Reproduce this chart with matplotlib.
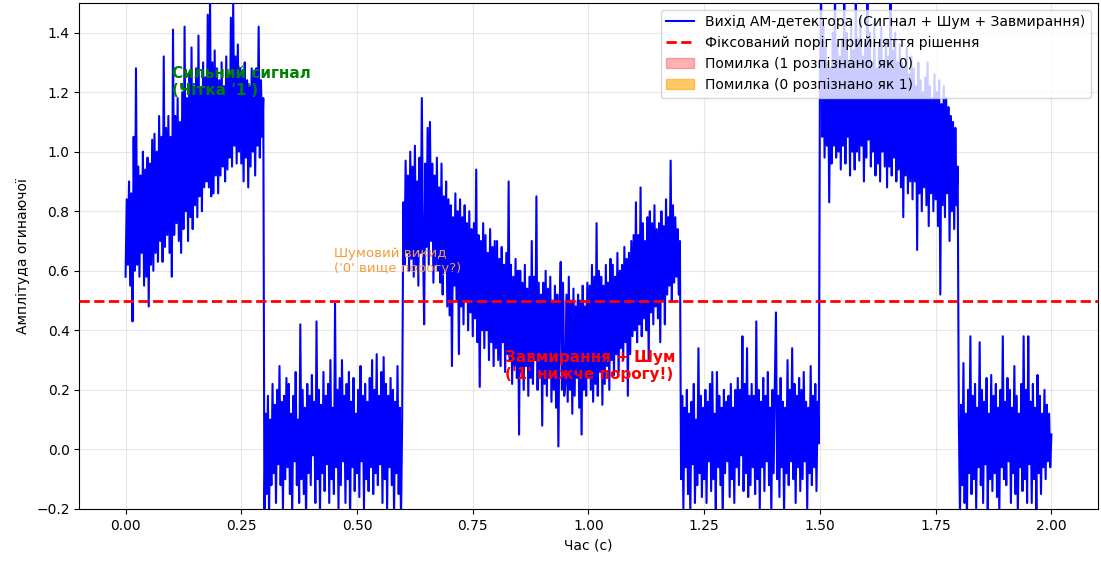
import numpy as np
import matplotlib
matplotlib.use("Agg")
import matplotlib.pyplot as plt

# --------------------------------------------------------------
# Data (2.5 ms step)
# --------------------------------------------------------------

dt = 0.0025
threshold = 0.5

# 0.000 - 0.2975 s : strong "1"
seg_strong_1 = [
    0.58, 0.84, 0.62, 0.90, 0.55, 0.86, 0.43, 1.05, 0.60, 1.28,
    0.62, 0.95, 0.58, 0.92, 0.66, 1.00, 0.55, 0.94, 0.58, 0.98,
    0.48, 0.96, 0.62, 1.04, 0.60, 1.06, 0.66, 1.00, 0.63, 1.12,
    0.70, 1.05, 0.63, 1.32, 0.68, 1.08, 0.72, 1.12, 0.66, 1.05,
    0.58, 1.41, 0.72, 1.12, 0.76, 1.18, 0.70, 1.10, 0.66, 1.20,
    0.74, 1.42, 0.80, 1.18, 0.70, 1.26, 0.78, 1.35, 0.74, 1.22,
    0.82, 1.28, 0.78, 1.39, 0.85, 1.20, 0.80, 1.30, 0.88, 1.25,
    0.90, 1.46, 0.88, 1.52, 0.85, 1.30, 0.86, 1.34, 0.92, 1.28,
    0.86, 1.24, 0.92, 1.30, 0.95, 1.22, 0.90, 1.32, 0.94, 1.25,
    0.98, 1.45, 0.95, 1.50, 1.02, 1.32, 0.96, 1.36, 1.00, 1.28,
    0.96, 1.26, 0.90, 1.30, 0.98, 1.24, 0.88, 1.22, 0.95, 1.28,
    1.00, 1.25, 0.92, 1.28, 1.02, 1.42, 0.98, 1.24, 1.05, 1.18,
]
# 0.300 - 0.5975 s : "0"
seg_zero_1 = [
    -0.25, 0.12, -0.15, 0.18, -0.22, 0.10, -0.12, 0.22, -0.08, 0.15,
    -0.18, 0.20, -0.05, 0.28, -0.12, 0.16, -0.20, 0.18, -0.10, 0.24,
    -0.06, 0.22, -0.15, 0.12, -0.22, 0.18, -0.04, 0.26, -0.12, 0.10,
    -0.18, 0.42, -0.10, 0.20, -0.15, 0.14, -0.25, 0.22, -0.08, 0.18,
    -0.12, 0.25, -0.02, 0.16, -0.18, 0.43, -0.10, 0.20, -0.22, 0.15,
    -0.08, 0.26, -0.14, 0.18, -0.05, 0.22, -0.18, 0.30, -0.10, 0.14,
    -0.15, 0.49, -0.06, 0.20, -0.20, 0.24, -0.12, 0.30, -0.04, 0.18,
    -0.18, 0.22, -0.10, 0.26, -0.25, 0.16, -0.06, 0.24, -0.14, 0.12,
    -0.08, 0.20, -0.16, 0.28, -0.04, 0.18, -0.20, 0.22, -0.10, 0.16,
    -0.14, 0.24, -0.06, 0.30, -0.15, 0.20, -0.08, 0.32, -0.12, 0.18,
    -0.05, 0.26, -0.18, 0.31, -0.10, 0.22, -0.20, 0.18, -0.06, 0.24,
    -0.12, 0.20, -0.22, 0.16, -0.08, 0.28, -0.15, 0.14, -0.24, 0.10,
]
# 0.600 - 1.1975 s : "1 1" with fading
seg_fading = [
    0.83, 0.62, 0.97, 0.66, 0.92, 0.60, 1.00, 0.64, 0.95, 0.58,
    1.02, 0.62, 0.90, 0.55, 0.98, 0.66, 1.18, 0.70, 0.42, 0.96,
    0.68, 1.08, 0.62, 1.10, 0.70, 0.96, 0.56, 0.92, 0.62, 0.98,
    0.60, 0.88, 0.56, 0.96, 0.52, 0.85, 0.60, 0.90, 0.48, 0.84,
    0.45, 0.82, 0.28, 0.78, 0.55, 0.86, 0.50, 0.80, 0.32, 0.84,
    0.48, 0.78, 0.42, 0.82, 0.50, 0.76, 0.40, 0.80, 0.46, 0.74,
    0.38, 0.76, 0.44, 0.94, 0.36, 0.72, 0.21, 0.70, 0.40, 0.76,
    0.34, 0.72, 0.40, 0.66, 0.30, 0.74, 0.36, 0.68, 0.28, 0.70,
    0.34, 0.70, 0.30, 0.64, 0.28, 0.68, 0.36, 0.62, 0.26, 0.66,
    0.32, 0.90, 0.30, 0.62, 0.22, 0.58, 0.28, 0.64, 0.24, 0.60,
    0.05, 0.60, 0.26, 0.56, 0.20, 0.62, 0.28, 0.54, 0.18, 0.58,
    0.24, 0.70, 0.22, 0.58, 0.30, 0.85, 0.20, 0.56, 0.26, 0.52,
    0.08, 0.56, 0.22, 0.60, 0.18, 0.54, 0.24, 0.58, 0.16, 0.50,
    0.20, 0.55, 0.14, 0.52, 0.01, 0.48, 0.63, 0.20, 0.56, 0.18,
    0.22, 0.52, 0.16, 0.58, 0.20, 0.50, 0.12, 0.54, 0.18, 0.48,
    0.24, 0.52, 0.14, 0.50, 0.05, 0.55, 0.20, 0.48, 0.18, 0.56,
    0.24, 0.55, 0.20, 0.62, 0.16, 0.58, 0.22, 0.76, 0.18, 0.60,
    0.26, 0.58, 0.15, 0.55, 0.22, 0.62, 0.28, 0.56, 0.20, 0.64,
    0.30, 0.62, 0.25, 0.58, 0.32, 0.66, 0.26, 0.60, 0.34, 0.62,
    0.30, 0.68, 0.36, 0.64, 0.18, 0.66, 0.32, 0.70, 0.38, 0.72,
    0.40, 0.83, 0.36, 0.72, 0.42, 0.88, 0.38, 0.76, 0.44, 0.70,
    0.40, 0.78, 0.30, 0.80, 0.46, 0.76, 0.42, 0.82, 0.48, 0.74,
    0.44, 0.76, 0.36, 0.80, 0.50, 0.75, 0.42, 0.84, 0.52, 0.78,
    0.55, 0.97, 0.50, 0.82, 0.56, 0.78, 0.58, 0.74, 0.52, 0.70,
]
# 1.200 - 1.4975 s : "0"
seg_zero_2 = [
    -0.10, 0.18, -0.20, 0.14, -0.06, 0.20, -0.15, 0.12, -0.22, 0.16,
    -0.05, 0.22, -0.18, 0.10, -0.12, 0.34, -0.08, 0.18, -0.16, 0.14,
    -0.10, 0.20, -0.18, 0.16, -0.04, 0.22, -0.14, 0.26, -0.10, 0.12,
    -0.20, 0.26, -0.06, 0.18, -0.12, 0.14, -0.25, 0.20, -0.08, 0.16,
    -0.04, 0.18, -0.16, 0.22, -0.10, 0.14, -0.18, 0.20, -0.06, 0.24,
    -0.12, 0.20, -0.02, 0.38, -0.14, 0.22, -0.08, 0.34, -0.16, 0.18,
    -0.12, 0.22, -0.06, 0.18, -0.15, 0.43, -0.10, 0.20, -0.20, 0.16,
    -0.06, 0.24, -0.14, 0.18, -0.04, 0.26, -0.12, 0.14, -0.22, 0.20,
    -0.08, 0.22, 0.46, -0.10, 0.18, -0.16, 0.24, -0.06, 0.16, -0.22,
    0.14, -0.08, 0.30, -0.12, 0.20, -0.04, 0.34, -0.10, 0.22, -0.18,
    0.18, -0.06, 0.24, -0.14, 0.20, -0.10, 0.26, -0.04, 0.16, -0.20,
    0.14, -0.08, 0.28, -0.12, 0.18, -0.06, 0.22, -0.14, 0.16, 0.02,
]
# 1.500 - 1.7975 s : strong "1"
seg_strong_2 = [
    1.25, 1.55, 1.05, 1.42, 0.98, 1.35, 1.02, 1.30, 0.83, 1.28,
    0.96, 1.40, 1.02, 1.55, 0.98, 1.36, 1.00, 1.32, 0.94, 1.38,
    1.02, 1.55, 0.96, 1.40, 1.05, 1.30, 0.92, 1.42, 1.00, 1.34,
    0.94, 1.55, 1.00, 1.38, 0.97, 1.45, 1.02, 1.32, 0.90, 1.36,
    0.98, 1.55, 1.04, 1.40, 0.95, 1.30, 1.00, 1.44, 0.92, 1.28,
    0.96, 1.36, 0.90, 1.42, 1.00, 1.30, 0.95, 1.38, 0.88, 1.32,
    0.95, 1.55, 0.92, 1.34, 0.98, 1.40, 0.90, 1.30, 0.94, 1.36,
    0.88, 1.30, 0.78, 1.28, 0.92, 1.35, 0.86, 1.26, 0.90, 1.32,
    0.84, 1.28, 0.90, 1.22, 0.67, 1.30, 0.86, 1.24, 0.80, 1.20,
    0.88, 1.25, 0.82, 1.30, 0.75, 1.22, 0.86, 1.18, 0.80, 1.26,
    0.84, 1.20, 0.75, 1.24, 0.52, 1.16, 0.82, 1.22, 0.78, 1.18,
    0.86, 1.15, 0.70, 1.12, 0.80, 1.10, 0.74, 1.08, 0.82, 0.95,
]
# 1.800 - 2.000 s : "0"
seg_zero_3 = [
    0.10, -0.22, 0.15, -0.12, 0.29, -0.18, 0.12, -0.25, 0.20, -0.08,
    0.38, -0.15, 0.18, -0.10, 0.22, -0.20, 0.14, -0.06, 0.36, -0.12,
    0.20, -0.18, 0.16, -0.05, 0.24, -0.20, 0.12, -0.10, 0.25, -0.14,
    0.18, -0.08, 0.22, -0.16, 0.14, -0.22, 0.20, -0.06, 0.38, -0.10,
    0.16, -0.12, 0.24, -0.04, 0.20, -0.18, 0.14, -0.08, 0.28, -0.15,
    0.18, -0.22, 0.12, -0.06, 0.22, -0.14, 0.38, -0.10, 0.20, -0.18,
    0.38, -0.05, 0.16, -0.18, 0.22, -0.10, 0.14, -0.20, 0.25, -0.08,
    0.18, -0.15, 0.12, -0.06, 0.20, -0.10, 0.15, -0.04, 0.12, -0.06,
    0.05,
]

segments = [seg_strong_1, seg_zero_1, seg_fading, seg_zero_2, seg_strong_2, seg_zero_3]
segment_bits = [1, 0, 1, 0, 1, 0]

signal = np.concatenate([np.array(s) for s in segments])
bits = np.concatenate([np.full(len(s), b) for s, b in zip(segments, segment_bits)])
t = np.arange(len(signal)) * dt

# --------------------------------------------------------------
# Plot
# --------------------------------------------------------------

fig, ax = plt.subplots(figsize=(11.01, 5.63), dpi=100)
fig.subplots_adjust(left=0.072, right=0.997, top=0.995, bottom=0.096)

ax.plot(t, signal, color="blue", linewidth=1.5, zorder=3,
        label="Вихід АМ-детектора (Сигнал + Шум + Завмирання)")
ax.axhline(threshold, color="red", linestyle="--", linewidth=2, zorder=4,
           label="Фіксований поріг прийняття рішення")

ax.fill_between(t, signal, threshold, where=(bits == 1) & (signal < threshold),
                color="red", alpha=0.3, zorder=2, label="Помилка (1 розпізнано як 0)")
ax.fill_between(t, signal, threshold, where=(bits == 0) & (signal > threshold),
                color="orange", alpha=0.6, zorder=2, label="Помилка (0 розпізнано як 1)")

ax.text(0.1, 1.19, "Сильний сигнал\n(Чітка '1')", color="green",
        fontweight="bold", fontsize=11, zorder=5)
ax.text(0.45, 0.595, "Шумовий викид\n('0' вище порогу?)", color="#f39c3c",
        fontsize=9.5, zorder=5)
ax.text(0.82, 0.235, "Завмирання + Шум\n('1' нижче порогу!)", color="red",
        fontweight="bold", fontsize=11, zorder=5)

ax.set_xlim(-0.1, 2.1)
ax.set_ylim(-0.2, 1.5)
ax.set_xlabel("Час (с)")
ax.set_ylabel("Амплітуда огинаючої")
ax.grid(True, alpha=0.3)
ax.legend(loc="upper right")

plt.savefig("out.png", dpi=100)
